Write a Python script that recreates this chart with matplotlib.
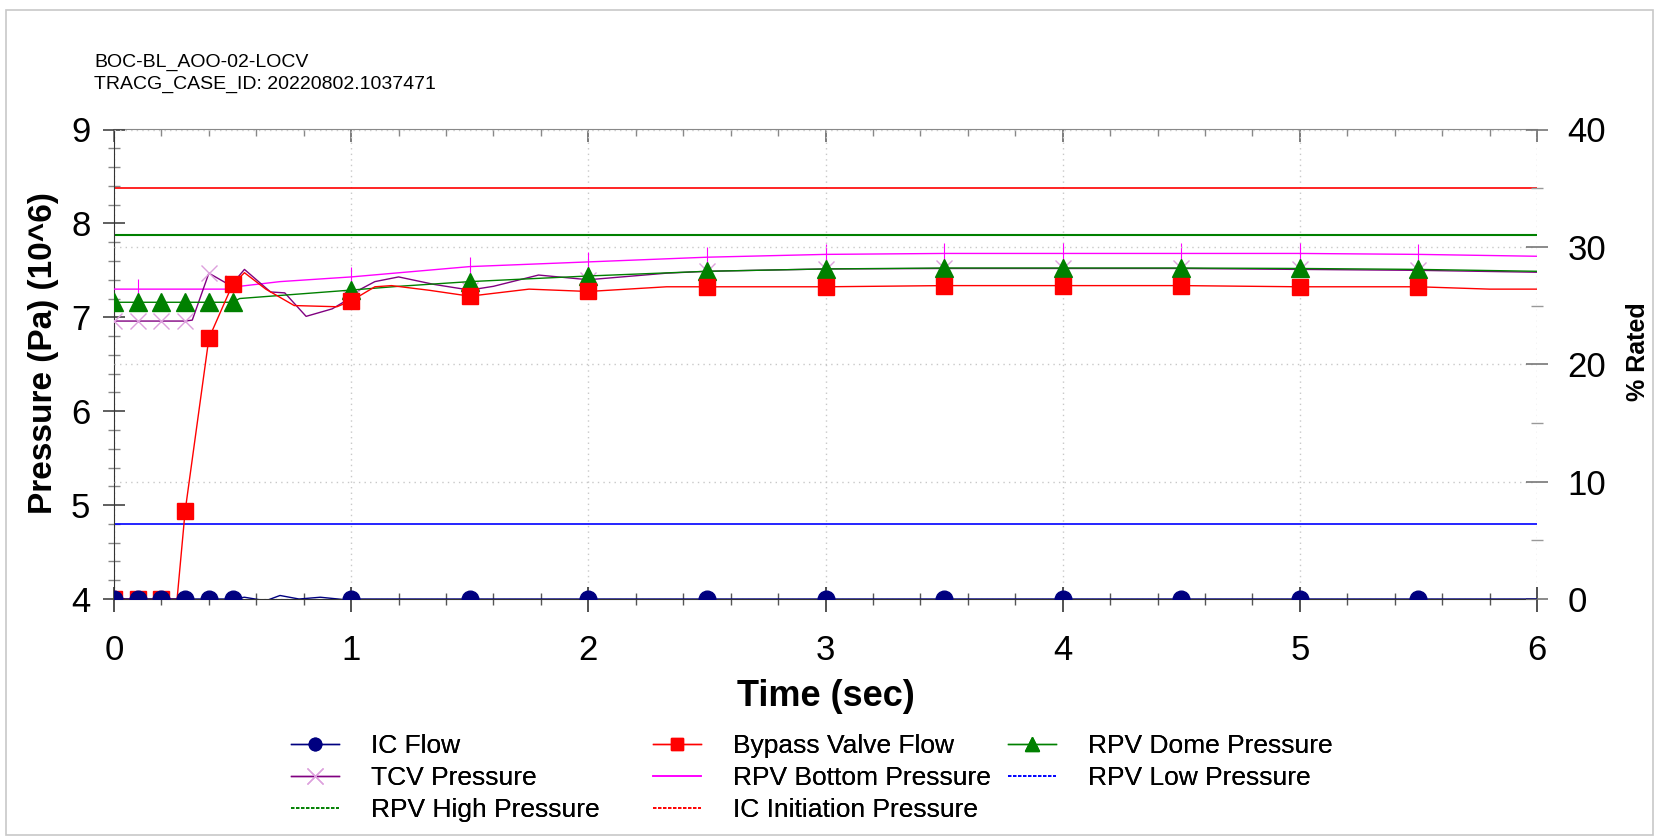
import numpy as np
import matplotlib
matplotlib.use("Agg")
import matplotlib.pyplot as plt
from matplotlib.lines import Line2D
from matplotlib.patches import Rectangle
from matplotlib.ticker import MultipleLocator

plt.rcParams['font.family'] = ['Liberation Sans', 'DejaVu Sans']

# ---------------- data ----------------
title_lines = ["BOC-BL_AOO-02-LOCV", "TRACG_CASE_ID: 20220802.1037471"]
marker_times = [0.0, 0.1, 0.2, 0.3, 0.4, 0.5, 1.0, 1.5, 2.0, 2.5, 3.0, 3.5, 4.0, 4.5, 5.0, 5.5]
bottom_marker_times = [0.1, 1.0, 1.5, 2.0, 2.5, 3.0, 3.5, 4.0, 4.5, 5.0, 5.5]

# flows (% rated, right axis)
t_ic = [0.0, 0.1, 0.2, 0.3, 0.4, 0.5, 0.55, 0.64, 0.70, 0.78, 0.87, 0.97, 1.0, 1.5, 2.0, 2.5,
        3.0, 3.5, 4.0, 4.5, 5.0, 5.5, 6.0]
ic_flow = [0, 0, 0, 0, 0, 0, 0.15, -0.15, 0.3, 0.0, 0.15, -0.05, 0, 0, 0, 0,
           0, 0, 0, 0, 0, 0, 0]

t_bp = [0.0, 0.1, 0.2, 0.266, 0.3, 0.4, 0.5, 0.55, 0.64, 0.76, 0.94, 1.0, 1.1, 1.17, 1.33, 1.5,
        1.75, 2.0, 2.33, 2.5, 3.0, 3.5, 4.0, 4.5, 5.0, 5.5, 5.8, 6.0]
bypass_flow = [0, 0, 0, 0, 7.5, 22.2, 26.8, 27.8, 26.4, 25.0, 24.9, 25.4, 26.6, 26.7, 26.3, 25.8,
               26.4, 26.2, 26.6, 26.6, 26.6, 26.7, 26.7, 26.7, 26.6, 26.6, 26.4, 26.4]

# pressures (MPa, left axis)
t_dome = [0.0, 0.1, 0.2, 0.3, 0.4, 0.5, 0.53, 1.0, 1.2, 1.5, 2.0, 2.5, 3.0, 3.5, 4.0, 4.5,
          5.0, 5.5, 6.0]
dome_p = [7.16, 7.16, 7.16, 7.16, 7.16, 7.16, 7.20, 7.29, 7.33, 7.38, 7.44, 7.49, 7.515, 7.525,
          7.525, 7.525, 7.52, 7.51, 7.49]

t_tcv = [0.0, 0.1, 0.2, 0.3, 0.33, 0.4, 0.49, 0.5, 0.55, 0.66, 0.72, 0.81, 0.92, 1.0, 1.04, 1.1,
         1.2, 1.35, 1.5, 1.6, 1.79, 2.0, 2.33, 2.5, 3.0, 3.5, 4.0, 4.5, 5.0, 5.5, 6.0]
tcv_p = [6.96, 6.96, 6.96, 6.96, 6.97, 7.47, 7.34, 7.36, 7.51, 7.27, 7.26, 7.01, 7.09, 7.21, 7.30,
         7.38, 7.43, 7.35, 7.29, 7.33, 7.45, 7.40, 7.47, 7.49, 7.515, 7.52, 7.52, 7.52, 7.51,
         7.50, 7.48]

t_bot = [0.0, 0.1, 0.2, 0.3, 0.4, 0.5, 0.53, 0.7, 1.0, 1.5, 2.0, 2.5, 3.0, 3.5, 4.0, 4.5, 5.0,
         5.5, 6.0]
bottom_p = [7.30, 7.30, 7.30, 7.30, 7.30, 7.30, 7.33, 7.38, 7.43, 7.54, 7.59, 7.64, 7.67, 7.68,
            7.68, 7.68, 7.68, 7.67, 7.65]

rpv_high_p = 7.88
rpv_low_p = 4.80
ic_init_p = 8.375

x_ticks = [0, 1, 2, 3, 4, 5, 6]
left_ticks = [4, 5, 6, 7, 8, 9]
right_ticks = [0, 10, 20, 30, 40]

# ---------------- figure ----------------
W, H = 1659, 840
fig = plt.figure(figsize=(W / 100, H / 100), dpi=100)
fig.patches.append(Rectangle((6 / W, 5 / H), 1 - 12 / W, 1 - 15 / H, transform=fig.transFigure,
                             fill=False, edgecolor='#c8c8c8', lw=1.2))

ax = fig.add_axes([114 / W, 1 - 599 / H, (1537 - 114) / W, (599 - 129.5) / H])
ax2 = ax.twinx()

ax.set_xlim(0, 6)
ax.set_ylim(4, 9)
ax2.set_ylim(0, 40)


def mask(t, times):
    return [any(abs(tt - m) < 1e-9 for m in times) for tt in t]


# reference lines
ax.axhline(rpv_high_p, color='#008000', lw=1.5, zorder=2)
ax.axhline(ic_init_p, color='#ff0000', lw=1.2, zorder=2)
ax.axhline(rpv_low_p, color='#0000ff', lw=1.2, zorder=2)

# pressure traces
ax.plot(t_bot, bottom_p, color='#ff00ff', lw=1.0, marker='|', ms=14, mew=0.8,
        markevery=mask(t_bot, bottom_marker_times), zorder=3)
ax.plot(t_tcv, tcv_p, color='#800080', lw=1.0, marker='x', ms=12, mew=1.0, mec='#dda0dd',
        markevery=mask(t_tcv, marker_times), zorder=3)
ax.plot(t_dome, dome_p, color='#008000', lw=1.0, marker='^', ms=13, mec='#008000', mfc='#008000',
        markevery=mask(t_dome, marker_times), zorder=4)

# flow traces
ax2.plot(t_bp, bypass_flow, color='#ff0000', lw=1.0, marker='s', ms=12, mfc='#ff0000', mec='#ff0000',
         markevery=mask(t_bp, marker_times), zorder=3)
ax2.plot(t_ic, ic_flow, color='#000080', lw=1.0, marker='o', ms=12, mfc='#000080', mec='#000080',
         markevery=mask(t_ic, marker_times), zorder=4)

# axes styling
for a in (ax, ax2):
    a.spines['right'].set_visible(False)
    a.spines['top'].set_visible(False)
ax2.spines['left'].set_visible(False)
ax2.spines['bottom'].set_visible(False)
ax.spines['left'].set_color('#333333')
ax.spines['bottom'].set_color('#333333')

ax.set_xticks(x_ticks)
ax.xaxis.set_minor_locator(MultipleLocator(0.2))
ax.set_yticks(left_ticks)
ax.yaxis.set_minor_locator(MultipleLocator(0.2))
ax2.set_yticks(right_ticks)
ax2.yaxis.set_minor_locator(MultipleLocator(5))

ax.tick_params(axis='x', which='major', direction='inout', length=18, width=1.2, color='#333333',
               labelsize=25, pad=16)
ax.tick_params(axis='x', which='minor', direction='inout', length=9, width=1.0, color='#555555')
ax.tick_params(axis='y', which='major', direction='inout', length=16, width=1.2, color='#444444',
               labelsize=25, pad=9)
ax.tick_params(axis='y', which='minor', direction='inout', length=8, width=1.0, color='#888888')
ax2.tick_params(axis='y', which='major', direction='inout', length=16, width=1.2, color='#777777',
                labelsize=25, pad=14)
ax2.tick_params(axis='y', which='minor', direction='inout', length=8, width=1.0, color='#999999')

# top edge with inward ticks
top = ax.secondary_xaxis('top')
top.set_xticks(x_ticks)
top.xaxis.set_minor_locator(MultipleLocator(0.2))
top.tick_params(axis='x', which='major', direction='in', length=9, width=1.2, color='#666666',
                labeltop=False)
top.tick_params(axis='x', which='minor', direction='in', length=5, width=1.0, color='#888888')
top.spines['top'].set_color('#888888')

ax.grid(axis='x', which='major', color='#c8c8c8', ls=(0, (1, 3)), lw=1.0)
ax2.grid(axis='y', which='major', color='#c8c8c8', ls=(0, (1, 3)), lw=1.0)

ax.set_xlabel('Time (sec)', fontsize=26, fontweight='bold')
ax.xaxis.label.set_va('center')
ax.xaxis.set_label_coords(0.5, (599 - 696) / 469.5)
ax.set_ylabel('Pressure (Pa) (10^6)', fontsize=24, fontweight='bold')
ax.yaxis.label.set_va('center')
ax.yaxis.set_label_coords((44 - 114) / 1423, (599 - 353) / 469.5)
ax2.set_ylabel('% Rated', fontsize=18, fontweight='bold')
ax2.yaxis.label.set_va('center')
ax2.yaxis.set_label_coords((1638 - 114) / 1423, (599 - 352) / 469.5)

fig.text(94 / W, 1 - 62 / H, title_lines[0], fontsize=14, va='center', ha='left')
fig.text(94 / W, 1 - 84 / H, title_lines[1], fontsize=14, va='center', ha='left')

# legend: three columns at fixed positions
columns = [
    ([Line2D([], [], color='#000080', lw=1.0, marker='o', ms=9, mfc='#000080', mec='#000080'),
      Line2D([], [], color='#800080', lw=1.0, marker='x', ms=11, mec='#dda0dd'),
      Line2D([], [], color='#008000', lw=1.2, ls=(0, (2, 1)))],
     ['IC Flow', 'TCV Pressure', 'RPV High Pressure'], 291),
    ([Line2D([], [], color='#ff0000', lw=1.0, marker='s', ms=9, mfc='#ff0000', mec='#ff0000'),
      Line2D([], [], color='#ff00ff', lw=1.2),
      Line2D([], [], color='#ff0000', lw=1.2, ls=(0, (2, 1)))],
     ['Bypass Valve Flow', 'RPV Bottom Pressure', 'IC Initiation Pressure'], 653),
    ([Line2D([], [], color='#008000', lw=1.0, marker='^', ms=10, mfc='#008000', mec='#008000'),
      Line2D([], [], color='#0000ff', lw=1.2, ls=(0, (2, 1)))],
     ['RPV Dome Pressure', 'RPV Low Pressure'], 1008),
]
for hs, ls_, x0 in columns:
    leg = fig.legend(hs, ls_, ncol=1, loc='upper left', bbox_to_anchor=(x0 / W, 1 - 734 / H),
                     frameon=False, fontsize=19, borderpad=0, borderaxespad=0, handlelength=1.8,
                     handletextpad=1.25, labelspacing=0.3)
    fig.add_artist(leg)

fig.savefig('out.png', dpi=100)
